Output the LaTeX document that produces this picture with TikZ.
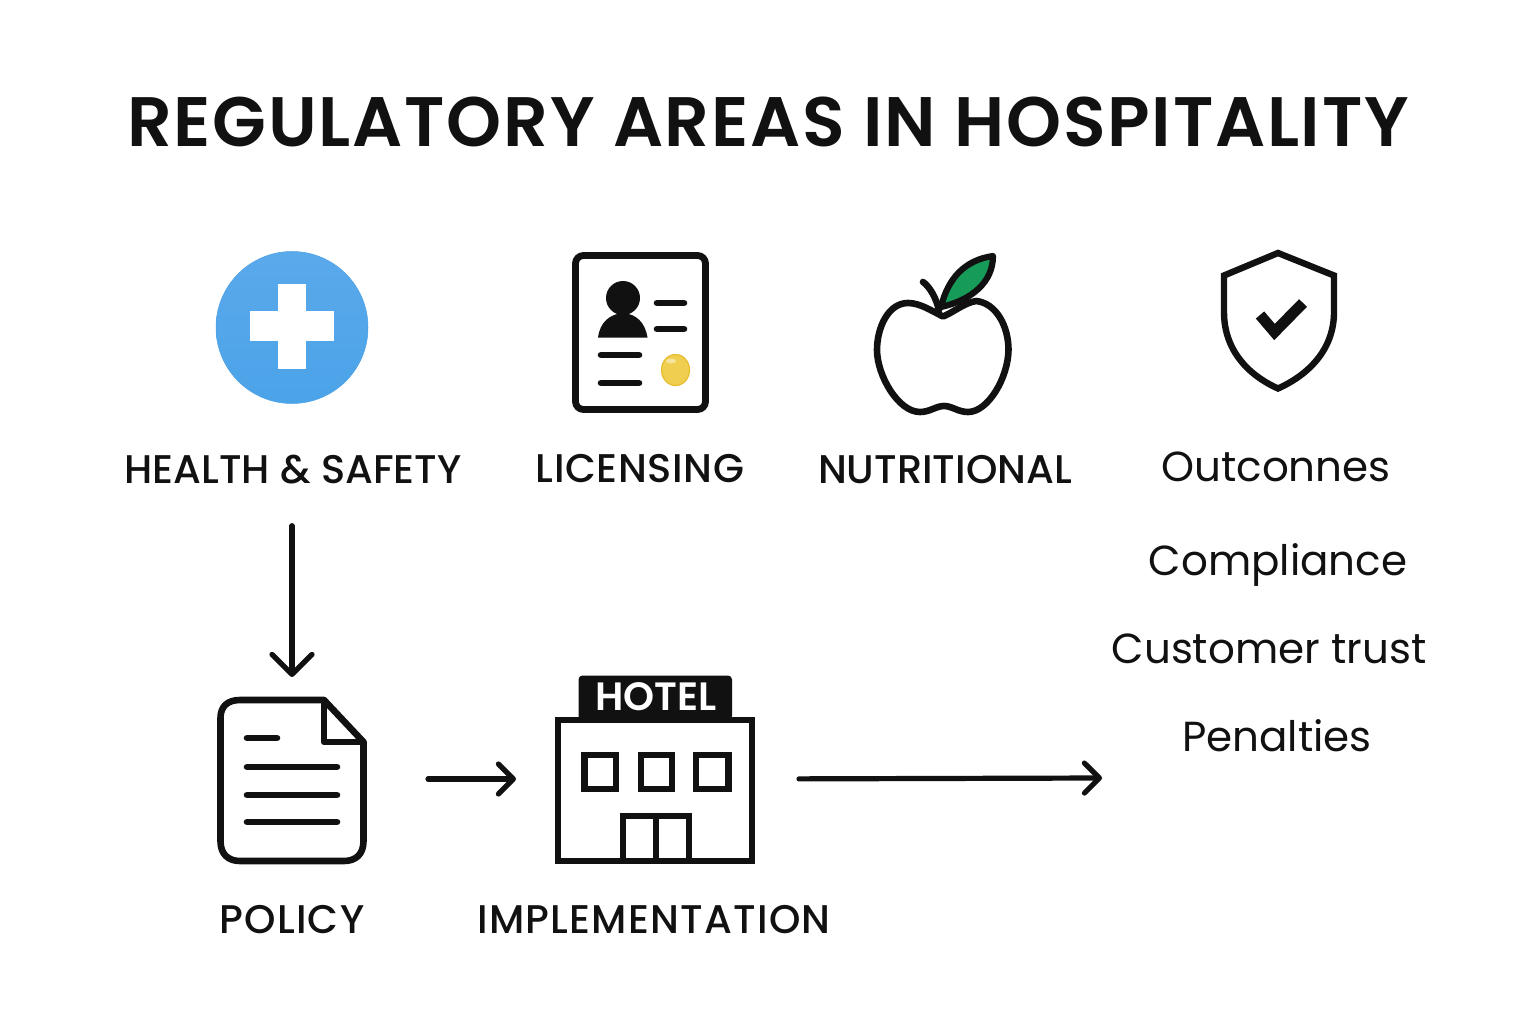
\documentclass[tikz,border=0pt]{standalone}
\usepackage{fontspec}
\setmainfont{Poppins}
\newfontfamily\titlefont[LetterSpace=2.5]{Poppins SemiBold}
\newfontfamily\hotelfont{Poppins SemiBold}
\newfontfamily\labelfont{Poppins Medium}
\newfontfamily\labelwide[LetterSpace=3]{Poppins Medium}
\newfontfamily\labelsemi[LetterSpace=1.5]{Poppins Medium}
\newfontfamily\plainfont{Poppins}
\usetikzlibrary{arrows.meta}
\definecolor{ink}{HTML}{111111}
\definecolor{leafgreen}{HTML}{169C58}
\definecolor{sealgold}{HTML}{F0CE50}
\definecolor{sealedge}{HTML}{E8BE2E}
\definecolor{plustop}{HTML}{5AA9EB}
\definecolor{plusbot}{HTML}{4BA3E8}
\definecolor{plusedge}{HTML}{4AA0E6}
\tikzset{
  x=1pt,y=-1pt,
  ttl/.style={font=\titlefont\fontsize{70}{76}\selectfont,text=ink,inner sep=0pt,anchor=base},
  lbl/.style={font=\labelfont\fontsize{40}{44}\selectfont,text=ink,inner sep=0pt,anchor=base},
  lblsemi/.style={lbl,font=\labelsemi\fontsize{40}{44}\selectfont},
  lblwide/.style={lbl,font=\labelwide\fontsize{40}{44}\selectfont},
  outcome/.style={font=\plainfont\fontsize{42}{46}\selectfont,text=ink,inner sep=0pt,anchor=base},
  iconbox/.style={inner sep=0pt,outer sep=0pt,minimum width=#1},
  link/.style={draw=ink,line width=5.2pt,line cap=round,line join=round,
    -{Straight Barb[length=#1,width=2*#1,round]}},
  stroke/.style={draw=ink,line width=6.6pt,line join=round,line cap=round},
  bar/.style={draw=ink,line width=6.6pt,line cap=round},
}
\begin{document}
\begin{tikzpicture}
\useasboundingbox (0,0) rectangle (1536,1024);
\fill[white] (0,0) rectangle (1536,1024);

% title
\node[ttl] (title) at (768,147) {REGULATORY AREAS IN HOSPITALITY};

% health icon
\node[circle,top color=plustop,bottom color=plusbot,draw=plusedge,line width=0.5pt,minimum size=152pt,inner sep=0pt] (hsicon) at (292,327.5) {};
\fill[white] (278,284) rectangle (306,369);
\fill[white] (250,311) rectangle (334,341);

% licence card
\draw[stroke,line width=6.8pt,rounded corners=8pt] (575.5,255.5) rectangle (705.5,409.5);
\fill[ink] (623,298) circle (17);
\fill[ink] (598,337.5) .. controls (600,322) and (610,314) .. (623,313)
  .. controls (636,314) and (645,322) .. (647.5,337.5) -- cycle;
\draw[bar] (657,303) -- (684,303);
\draw[bar] (657,329) -- (684,329);
\draw[bar] (601,355) -- (639,355);
\draw[bar] (601,383) -- (639,383);
\fill[sealgold,draw=sealedge,line width=1.2pt] (675.5,370) ellipse (14 and 15.5);
\fill[white,opacity=.45] (671,361) ellipse (5 and 2.5);

% apple
\fill[leafgreen,draw=ink,line width=6.2pt,line join=round]
  (941,307) .. controls (948,278) and (965,260) .. (993,256)
  .. controls (993,282) and (972,300) .. (941,307) -- cycle;
\draw[stroke,line width=6.6pt] (923,282) .. controls (930,287) and (936,298) .. (939,310);
\fill[white,draw=ink,line width=6.6pt,line join=round]
  (943,316.5) .. controls (932,311) and (920,303) .. (908,303)
  .. controls (888,303) and (877,328) .. (877,350)
  .. controls (877,375) and (898,412) .. (920,412)
  .. controls (930,412) and (936,406) .. (944,406)
  .. controls (952,406) and (958,412) .. (968,412)
  .. controls (988,412) and (1008,378) .. (1008.5,350)
  .. controls (1008.5,326) and (996,303) .. (976,301)
  .. controls (964,303) and (954,312) .. (943,316.5) -- cycle;

% shield
\draw[stroke,line width=6.4pt,line join=miter]
  (1278,253) -- (1334,275.5) -- (1334,312)
  .. controls (1334,350) and (1308,375) .. (1278,388.5)
  .. controls (1248,375) and (1224,350) .. (1224,312)
  -- (1224,275.5) -- cycle;
\draw[draw=ink,line width=11pt,line join=miter] (1260,315) -- (1274.5,332) -- (1303,303);

% labels top row
\node[lbl] (hslabel) at (293,483) {HEALTH \& SAFETY};
\node[lblsemi] (liclabel) at (640,482) {LICENSING};
\node[lbl] (nutlabel) at (945,483) {NUTRITIONAL};

% outcomes
\node[outcome] (outc) at (1276,481.5) {Outconnes};
\node[outcome] (comp) at (1278,575) {Compliance};
\node[outcome] (trust) at (1269,663) {Customer trust};
\node[outcome] (pen) at (1277,751) {Penalties};

% policy document
\node[iconbox=150pt,minimum height=166pt] (policy) at (292,779) {};
\draw[stroke,line width=6.6pt]
  (324,700) -- (240,700) .. controls (227,700) and (220.5,707) .. (220.5,718)
  -- (220.5,841) .. controls (220.5,854) and (228,861) .. (240,861)
  -- (344,861) .. controls (356,861) and (363.5,854) .. (363.5,841)
  -- (363.5,742) -- cycle;
\draw[stroke,line width=6.4pt] (324,700) -- (324,742) -- (363.5,742);
\draw[bar] (247,738) -- (277,738);
\draw[bar] (247,767) -- (337,767);
\draw[bar] (247,795) -- (337,795);
\draw[bar] (247,822) -- (337,822);

% hotel
\node[iconbox=200pt,minimum height=170pt] (hotel) at (655,779) {};
\fill[ink,rounded corners=4pt] (578.5,720) -- (578.5,675.5) -- (732,675.5) -- (732,720) -- cycle;
\draw[stroke,line width=6.8pt,line join=miter] (558,720) rectangle (752,861);
\draw[stroke,line width=6.4pt,line join=miter] (584.5,755) rectangle (616,789);
\draw[stroke,line width=6.4pt,line join=miter] (641,755) rectangle (672,789);
\draw[stroke,line width=6.4pt,line join=miter] (696,755) rectangle (728.5,789);
\draw[stroke,line width=6pt,line join=miter] (622.5,861) -- (622.5,815.5) -- (688.5,815.5) -- (688.5,861);
\draw[draw=ink,line width=6pt] (656,815.5) -- (656,861);
\node[font=\hotelfont\fontsize{39.5}{42}\selectfont,text=white,inner sep=0pt,anchor=base] (hoteltext) at (656,710) {HOTEL};

% bottom labels
\node[lblwide] (pollabel) at (292,933) {POLICY};
\node[lblwide] (implabel) at (654,933) {IMPLEMENTATION};

% connectors
\coordinate (outend) at (1102,778);
\draw[link=20pt,shorten <=42pt,shorten >=19pt] (policy.north |- hslabel.south) -- (policy.north);
\draw[link=15pt,shorten <=61pt,shorten >=39pt] (policy.east) -- (hotel.west);
\draw[link=15pt,shorten <=44pt] (hotel.east) -- (outend);
\end{tikzpicture}
\end{document}
